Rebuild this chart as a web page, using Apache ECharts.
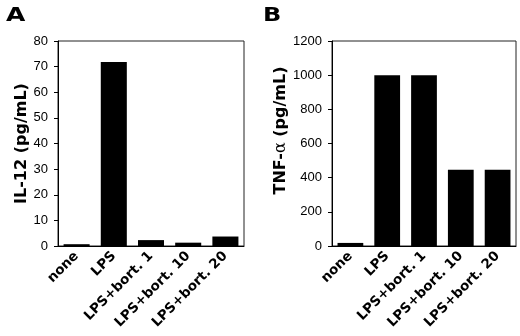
<!DOCTYPE html>
<html>
<head>
<meta charset="utf-8">
<script src="https://cdn.jsdelivr.net/npm/echarts@6/dist/echarts.min.js"></script>
<style>
    html, body { margin: 0; padding: 0; background: #fff; }
    #chart { width: 520px; height: 336px; }
</style>
</head>
<body>
<div id="chart"></div>
<script>
    // 数据
    var categories = ['none', 'LPS', 'LPS+bort. 1', 'LPS+bort. 10', 'LPS+bort. 20'];
    var il12Values = [0.7, 71.8, 2.3, 1.3, 3.7];
    var tnfValues = [18, 1000, 1000, 447, 447];
    var il12Ticks = { min: 0, max: 80, interval: 10 };
    var tnfTicks = { min: 0, max: 1200, interval: 200 };

    var tickFont = 'Liberation Sans, Arial, sans-serif';
    var boldFont = 'DejaVu Sans, sans-serif';

    function xAxisOf(idx) {
        return {
            type: 'category',
            gridIndex: idx,
            data: categories,
            axisLine: { lineStyle: { color: '#000', width: 1 } },
            axisTick: { show: false },
            axisLabel: {
                rotate: 45,
                margin: 8,
                color: '#000',
                fontFamily: boldFont,
                fontWeight: 'bold',
                fontSize: 13.5
            }
        };
    }

    function yAxisOf(idx, ticks, name, gap, extra) {
        var nameStyle = {
            color: '#000',
            fontFamily: boldFont,
            fontWeight: 'bold',
            fontSize: 16
        };
        for (var k in extra) { nameStyle[k] = extra[k]; }
        return {
            type: 'value',
            gridIndex: idx,
            min: ticks.min,
            max: ticks.max,
            interval: ticks.interval,
            name: name,
            nameLocation: 'middle',
            nameGap: gap,
            nameTextStyle: nameStyle,
            axisLine: { show: true, lineStyle: { color: '#000', width: 1 } },
            axisTick: { show: true, inside: false, length: 4, lineStyle: { color: '#000' } },
            splitLine: { show: false },
            axisLabel: {
                margin: 10,
                color: '#000',
                fontFamily: tickFont,
                fontSize: 13,
                formatter: function (v) { return String(v); }
            }
        };
    }

    var chart = echarts.init(document.getElementById('chart'));
    var option = {
        backgroundColor: '#fff',
        animation: false,
        grid: [
            { left: 58, top: 41, width: 186, bottom: 90, show: true, borderColor: '#222', borderWidth: 1 },
            { left: 332, top: 41, right: 4, bottom: 90, show: true, borderColor: '#222', borderWidth: 1 }
        ],
        xAxis: [xAxisOf(0), xAxisOf(1)],
        yAxis: [
            yAxisOf(0, il12Ticks, 'IL-12 (pg/mL)', 28, {}),
            yAxisOf(1, tnfTicks, '{b|TNF-}{a|α}{b| (pg/mL)}', 39, {
                padding: [0, 0, 0, 26],
                rich: {
                    b: { color: '#000', fontFamily: boldFont, fontWeight: 'bold', fontSize: 16 },
                    a: { color: '#000', fontFamily: 'DejaVu Serif, serif', fontWeight: 'normal', fontSize: 16 }
                }
            })
        ],
        series: [
            {
                type: 'bar',
                xAxisIndex: 0,
                yAxisIndex: 0,
                data: il12Values,
                barCategoryGap: '30%',
                itemStyle: { color: '#000' }
            },
            {
                type: 'bar',
                xAxisIndex: 1,
                yAxisIndex: 1,
                data: tnfValues,
                barCategoryGap: '30%',
                itemStyle: { color: '#000' }
            }
        ],
        graphic: [
            {
                type: 'text', left: 6, top: 6,
                style: { text: 'A', fill: '#000', font: 'bold 20px DejaVu Sans, sans-serif' },
                scaleX: 1.25
            },
            {
                type: 'text', left: 263, top: 6,
                style: { text: 'B', fill: '#000', font: 'bold 20px DejaVu Sans, sans-serif' },
                scaleX: 1.2
            }
        ]
    };
    chart.setOption(option, true);
</script>
</body>
</html>
